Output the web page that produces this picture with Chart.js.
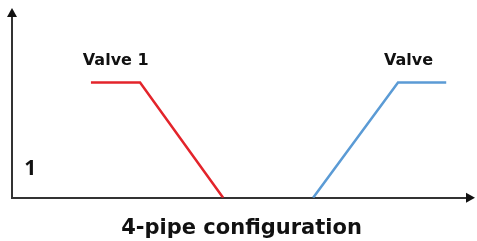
<!DOCTYPE html>
<html>
<head>
<meta charset="utf-8">
<script src="https://cdn.jsdelivr.net/npm/chart.js@4"></script>
<style>
  html, body { margin: 0; padding: 0; background: #fff; }
  #wrap { width: 477px; height: 241px; }
</style>
</head>
<body>
<div id="wrap"><canvas id="pipeChart"></canvas></div>
<script>
// Data
const valve1X = [17.2, 27.9, 46.0];
const valve1Y = [0.62, 0.62, 0];
const valve2X = [65.6, 84.1, 94.6];
const valve2Y = [0, 0.62, 0.62];
const labels = [
  { text: 'Valve 1', x: 22.6, y: 0.735, size: 16, family: '"DejaVu Sans", sans-serif' },
  { text: 'Valve', x: 86.4, y: 0.735, size: 16, family: '"DejaVu Sans", sans-serif' },
  { text: '1', x: 4.0, y: 0.154, size: 21, family: '"Open Sans", sans-serif' }
];
const axisTitle = '4-pipe configuration';

function toPoints(xs, ys) {
  return xs.map((x, i) => ({ x: x, y: ys[i] }));
}

// Arrows + text labels
const decorPlugin = {
  id: 'decor',
  afterDraw(chart) {
    const { ctx, chartArea, scales } = chart;
    ctx.save();
    ctx.fillStyle = '#111';
    // y arrow
    const ax = chartArea.left;
    ctx.beginPath();
    ctx.moveTo(ax, chartArea.top - 4);
    ctx.lineTo(ax - 5, chartArea.top + 5);
    ctx.lineTo(ax + 5, chartArea.top + 5);
    ctx.closePath();
    ctx.fill();
    // x arrow
    const ay = chartArea.bottom;
    ctx.beginPath();
    ctx.moveTo(chartArea.right + 4, ay);
    ctx.lineTo(chartArea.right - 5, ay - 5);
    ctx.lineTo(chartArea.right - 5, ay + 5);
    ctx.closePath();
    ctx.fill();

    ctx.textAlign = 'center';
    ctx.textBaseline = 'middle';
    labels.forEach(l => {
      ctx.font = 'bold ' + l.size + 'px ' + l.family;
      ctx.fillText(l.text, scales.x.getPixelForValue(l.x), scales.y.getPixelForValue(l.y));
    });
    ctx.restore();
  }
};

new Chart(document.getElementById('pipeChart'), {
  type: 'line',
  data: {
    datasets: [
      {
        data: toPoints(valve1X, valve1Y),
        borderColor: '#e3242b',
        borderWidth: 2.5,
        pointRadius: 0,
        tension: 0
      },
      {
        data: toPoints(valve2X, valve2Y),
        borderColor: '#5b9bd5',
        borderWidth: 2.5,
        pointRadius: 0,
        tension: 0
      }
    ]
  },
  options: {
    responsive: true,
    maintainAspectRatio: false,
    animation: false,
    layout: { padding: { top: 12, right: 6, left: 4, bottom: 0 } },
    plugins: {
      legend: { display: false },
      tooltip: { enabled: false }
    },
    scales: {
      x: {
        type: 'linear',
        min: 0,
        max: 100,
        grid: { display: false },
        ticks: { display: false },
        border: { display: true, color: '#333', width: 2 },
        title: {
          display: true,
          text: axisTitle,
          color: '#111',
          font: { family: '"DejaVu Sans", sans-serif', size: 21, weight: 'bold' },
          padding: { top: 10, bottom: 0 }
        }
      },
      y: {
        min: 0,
        max: 1,
        grid: { display: false },
        ticks: { display: false },
        border: { display: true, color: '#333', width: 2 }
      }
    }
  },
  plugins: [decorPlugin]
});
</script>
</body>
</html>
